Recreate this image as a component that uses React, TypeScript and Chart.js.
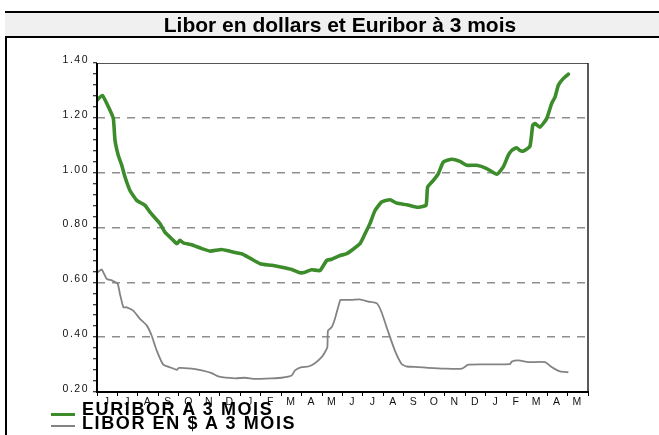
import React, { useEffect, useRef } from 'react';
import { Chart, registerables } from 'chart.js';

Chart.register(...registerables);

// Month labels (June 2009 -> May 2011)
const monthLabels = ['J', 'J', 'A', 'S', 'O', 'N', 'D', 'J', 'F', 'M', 'A', 'M', 'J', 'J', 'A', 'S', 'O', 'N', 'D', 'J', 'F', 'M', 'A', 'M'];
const yMajorTicks = [0.2, 0.4, 0.6, 0.8, 1.0, 1.2, 1.4];

// x = months since start of June 2009
const euriborMonths = [0, 0.26, 0.64, 0.8, 0.88, 1.04, 1.21, 1.37, 1.61, 1.94, 2.35, 2.59, 3.08, 3.32, 3.73, 3.9, 4.06, 4.22, 4.63, 5.12, 5.52, 6.09, 6.5, 7.07, 7.48, 7.97, 8.54, 9.03, 9.52, 9.92, 10.17, 10.49, 10.9, 11.23, 11.47, 11.88, 12.2, 12.85, 13.1, 13.34, 13.59, 13.91, 14.32, 14.65, 15.14, 15.63, 16.08, 16.16, 16.44, 16.68, 16.93, 17.34, 17.74, 18.07, 18.56, 19.05, 19.54, 19.86, 20.1, 20.27, 20.51, 20.67, 20.84, 21.16, 21.3, 21.41, 21.65, 21.98, 22.22, 22.39, 22.55, 22.79, 23.04];
const euriborValues = [1.264, 1.282, 1.227, 1.197, 1.118, 1.063, 1.027, 0.984, 0.935, 0.899, 0.881, 0.856, 0.814, 0.783, 0.753, 0.741, 0.753, 0.744, 0.737, 0.723, 0.714, 0.72, 0.713, 0.704, 0.688, 0.668, 0.662, 0.655, 0.647, 0.635, 0.637, 0.646, 0.643, 0.68, 0.684, 0.698, 0.704, 0.741, 0.777, 0.814, 0.862, 0.893, 0.901, 0.889, 0.883, 0.874, 0.881, 0.947, 0.972, 0.996, 1.039, 1.049, 1.041, 1.027, 1.027, 1.015, 0.994, 1.021, 1.063, 1.081, 1.091, 1.081, 1.079, 1.096, 1.173, 1.179, 1.166, 1.197, 1.252, 1.276, 1.319, 1.343, 1.359];

const liborMonths = [0, 0.23, 0.47, 0.72, 1.01, 1.12, 1.29, 1.45, 1.77, 2.1, 2.43, 2.67, 2.92, 3.24, 3.65, 3.9, 4.01, 4.63, 5.12, 5.61, 5.93, 6.74, 7.23, 7.72, 8.54, 9.03, 9.52, 9.68, 10.0, 10.33, 10.65, 10.98, 11.14, 11.26, 11.29, 11.47, 11.63, 11.88, 11.93, 12.45, 12.85, 13.26, 13.67, 13.91, 14.24, 14.56, 14.89, 15.14, 15.7, 16.19, 17.01, 17.83, 18.15, 19.13, 20.19, 20.27, 20.6, 21.09, 21.9, 22.22, 22.63, 23.04];
const liborValues = [0.635, 0.647, 0.613, 0.607, 0.595, 0.558, 0.509, 0.509, 0.497, 0.467, 0.443, 0.406, 0.351, 0.3, 0.288, 0.281, 0.288, 0.285, 0.279, 0.269, 0.257, 0.25, 0.252, 0.248, 0.25, 0.252, 0.26, 0.279, 0.291, 0.293, 0.305, 0.327, 0.345, 0.364, 0.424, 0.436, 0.467, 0.534, 0.536, 0.536, 0.538, 0.53, 0.524, 0.491, 0.418, 0.351, 0.302, 0.293, 0.291, 0.288, 0.285, 0.285, 0.3, 0.301, 0.302, 0.311, 0.315, 0.309, 0.309, 0.291, 0.275, 0.272];

const seriesNames = ['EURIBOR A 3 MOIS', 'LIBOR EN $ A 3 MOIS'];
const titleText = 'Libor en dollars et Euribor à 3 mois';

const GREEN = '#3d8c2c';
const GREY = '#838383';
const AXIS_FONT = { family: '"Liberation Sans", Arial, sans-serif', size: 10.5 };

const isMajor = (v: number) => yMajorTicks.some((m) => Math.abs(m - v) < 1e-6);
const isInteriorMajor = (v: number) => isMajor(v) && v > 0.21 && v < 1.39;

const framePlugin = {
  id: 'frame',
  beforeDraw(chart: any) {
    chart.ctx.letterSpacing = '1.5px';
  },
  afterDraw(chart: any) {
    const { ctx, chartArea } = chart;
    const { left, right, top, bottom } = chartArea;
    ctx.save();
    ctx.letterSpacing = '0px';
    ctx.strokeStyle = '#555';
    ctx.lineWidth = 1;
    ctx.beginPath();
    ctx.moveTo(left, top + 0.5);
    ctx.lineTo(right, top + 0.5);
    ctx.stroke();
    ctx.strokeStyle = '#222';
    ctx.lineWidth = 1.5;
    ctx.beginPath();
    ctx.moveTo(right, top);
    ctx.lineTo(right, bottom);
    ctx.stroke();
    ctx.strokeStyle = '#000';
    ctx.lineWidth = 2;
    ctx.beginPath();
    ctx.moveTo(left, top);
    ctx.lineTo(left, bottom + 1);
    ctx.moveTo(left - 1, bottom);
    ctx.lineTo(right + 1, bottom);
    ctx.stroke();
    ctx.restore();
  },
};

function LiborChart() {
  const ref = useRef<HTMLCanvasElement | null>(null);
  useEffect(() => {
    if (!ref.current) return;
    const chart = new Chart(ref.current, {
      type: 'line',
      data: {
        datasets: [
          {
            label: seriesNames[1],
            data: liborMonths.map((m, i) => ({ x: m, y: liborValues[i] })),
            borderColor: GREY,
            borderWidth: 1.8,
            pointRadius: 0,
            tension: 0.15,
            fill: false,
          },
          {
            label: seriesNames[0],
            data: euriborMonths.map((m, i) => ({ x: m, y: euriborValues[i] })),
            borderColor: GREEN,
            borderWidth: 3.6,
            pointRadius: 0,
            tension: 0.15,
            borderJoinStyle: 'round',
            borderCapStyle: 'round',
            fill: false,
          },
        ],
      },
      options: {
        animation: false,
        responsive: false,
        maintainAspectRatio: false,
        devicePixelRatio: 1,
        layout: { padding: { left: 0, top: 63, right: 71, bottom: 0 } },
        plugins: {
          legend: { display: false },
          title: { display: false },
          tooltip: { enabled: false },
        },
        scales: {
          x: {
            type: 'linear',
            min: 0,
            max: 24,
            afterBuildTicks: (s: any) => {
              s.ticks = Array.from({ length: 25 }, (_, i) => ({ value: i }));
            },
            afterFit: (s: any) => {
              s.height = 43;
            },
            ticks: {
              autoSkip: false,
              maxRotation: 0,
              minRotation: 0,
              labelOffset: 10.2,
              padding: 0,
              color: '#111',
              font: AXIS_FONT,
              callback: (_v: any, i: number) => monthLabels[i] ?? '',
            },
            grid: {
              drawOnChartArea: false,
              drawTicks: true,
              tickLength: 4,
              tickColor: '#000',
              tickWidth: 1,
            },
            border: { display: false },
          },
          y: {
            type: 'linear',
            min: 0.2,
            max: 1.4,
            afterBuildTicks: (s: any) => {
              s.ticks = Array.from({ length: 31 }, (_, i) => ({ value: +(0.2 + i * 0.04).toFixed(2) }));
            },
            afterFit: (s: any) => {
              s.width = 97;
            },
            ticks: {
              autoSkip: false,
              padding: 4,
              labelOffset: -3,
              color: '#111',
              font: AXIS_FONT,
              callback: (v: any) => (isMajor(Number(v)) ? Number(v).toFixed(2) : ''),
            },
            grid: {
              drawOnChartArea: true,
              drawTicks: true,
              tickLength: 4,
              tickColor: '#000',
              tickWidth: 1,
              lineWidth: 1.5,
              color: (c: any) => (c.tick && isInteriorMajor(c.tick.value) ? '#8e8e8e' : 'rgba(0,0,0,0)'),
            },
            border: { display: false, dash: [8, 7] },
          },
        },
      },
      plugins: [framePlugin],
    } as any);
    return () => chart.destroy();
  }, []);
  return <canvas ref={ref} width={659} height={435} style={{ position: 'absolute', left: 0, top: 0, width: 659, height: 435 }} />;
}

export default function App() {
  const legendText: React.CSSProperties = {
    position: 'absolute',
    left: 82,
    fontFamily: '"Liberation Sans", Arial, sans-serif',
    fontWeight: 'bold',
    fontSize: 18,
    lineHeight: '18px',
    letterSpacing: '1.6px',
    whiteSpace: 'nowrap',
    color: '#000',
  };
  return (
    <div style={{ position: 'fixed', left: 0, top: 0, width: 659, height: 435, background: '#fff', overflow: 'hidden' }}>
      <LiborChart />
      <div style={{ position: 'absolute', left: 5, top: 11, width: 2, height: 430, background: '#000' }} />
      <div
        style={{
          position: 'absolute',
          left: 5,
          top: 11,
          width: 700,
          height: 23,
          background: '#f0f0f0',
          borderTop: '2px solid #000',
          borderBottom: '2px solid #000',
        }}
      />
      <div
        style={{
          position: 'absolute',
          left: 0,
          top: 13,
          width: 680,
          height: 23,
          lineHeight: '23px',
          textAlign: 'center',
          fontFamily: '"Liberation Sans", Arial, sans-serif',
          fontWeight: 'bold',
          fontSize: 21,
          color: '#000',
          whiteSpace: 'nowrap',
        }}
      >
        {titleText}
      </div>
      <div style={{ position: 'absolute', left: 51, top: 412.5, width: 24, height: 3, background: GREEN }} />
      <div style={{ position: 'absolute', left: 51, top: 425, width: 24, height: 2, background: GREY }} />
      <div style={{ ...legendText, top: 399.8 }}>{seriesNames[0]}</div>
      <div style={{ ...legendText, top: 413.8 }}>{seriesNames[1]}</div>
    </div>
  );
}
